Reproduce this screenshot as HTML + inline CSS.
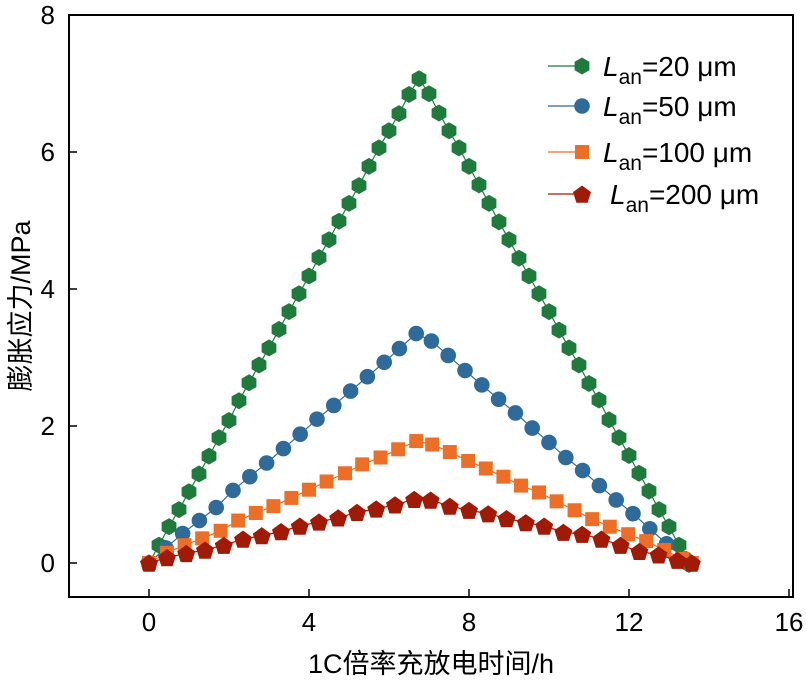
<!DOCTYPE html>
<html><head><meta charset="utf-8"><style>
body{margin:0;background:#fff}
svg text{font-family:"Liberation Sans","Noto Sans CJK SC",sans-serif;fill:#000}
</style></head><body>
<svg id="chart" width="806" height="689"></svg>
<script>
const xTicks=[0,4,8,12,16];
const yTicks=[0,2,4,6,8];
const gX=[0,0.25,0.5,0.75,1,1.25,1.5,1.75,2,2.25,2.5,2.75,3,3.25,3.5,3.75,4,4.25,4.5,4.75,5,5.25,5.5,5.75,6,6.25,6.5,6.75,7,7.25,7.5,7.75,8,8.25,8.5,8.75,9,9.25,9.5,9.75,10,10.25,10.5,10.75,11,11.25,11.5,11.75,12,12.25,12.5,12.75,13,13.25,13.5];
const gY=[0,0.26,0.53,0.78,1.04,1.3,1.56,1.83,2.08,2.37,2.63,2.89,3.14,3.41,3.67,3.93,4.19,4.46,4.72,4.99,5.25,5.51,5.79,6.06,6.31,6.56,6.84,7.07,6.85,6.57,6.31,6.06,5.79,5.52,5.25,4.98,4.72,4.45,4.19,3.93,3.67,3.4,3.14,2.89,2.62,2.38,2.09,1.83,1.57,1.31,1.05,0.78,0.53,0.26,-0.02];
const bX=[0,0.42,0.84,1.26,1.68,2.1,2.52,2.94,3.36,3.78,4.2,4.62,5.04,5.46,5.88,6.26,6.68,7.06,7.48,7.9,8.32,8.74,9.16,9.58,10,10.42,10.84,11.26,11.68,12.1,12.52,12.94,13.4];
const bY=[0,0.22,0.43,0.62,0.81,1.06,1.26,1.46,1.67,1.88,2.1,2.3,2.51,2.72,2.93,3.13,3.35,3.24,3.03,2.81,2.6,2.39,2.19,1.97,1.76,1.54,1.35,1.13,0.92,0.72,0.5,0.28,0.06];
const oX=[0,0.45,0.89,1.33,1.79,2.23,2.67,3.11,3.56,4,4.44,4.9,5.33,5.79,6.23,6.68,7.08,7.52,7.98,8.42,8.86,9.3,9.75,10.19,10.64,11.08,11.52,11.98,12.43,12.88,13.33,13.57];
const oY=[0,0.15,0.26,0.36,0.47,0.62,0.73,0.83,0.95,1.07,1.19,1.31,1.44,1.54,1.66,1.78,1.73,1.62,1.49,1.38,1.26,1.13,1.03,0.9,0.77,0.64,0.53,0.42,0.32,0.19,0.06,0];
const rX=[0,0.45,0.93,1.4,1.87,2.35,2.82,3.3,3.77,4.25,4.73,5.2,5.68,6.15,6.63,7.04,7.52,8,8.48,8.94,9.42,9.88,10.36,10.83,11.31,11.79,12.26,12.74,13.21,13.57];
const rY=[0,0.08,0.14,0.19,0.26,0.35,0.4,0.46,0.54,0.6,0.66,0.74,0.79,0.85,0.93,0.92,0.83,0.77,0.72,0.65,0.59,0.54,0.45,0.42,0.35,0.26,0.17,0.12,0.04,0];
const L=69,R=793,T=15,B=597;
const sx=v=>149+v*40, sy=v=>563-v*68.5;
const svg=document.getElementById('chart');
const NS='http://www.w3.org/2000/svg';
function mk(tag,attrs,parent){const e=document.createElementNS(NS,tag);for(const k in attrs)e.setAttribute(k,attrs[k]);(parent||svg).appendChild(e);return e;}
function poly(n,r,cx,cy,rot){let p=[];for(let i=0;i<n;i++){const a=rot+i*2*Math.PI/n;p.push((cx+r*Math.cos(a)).toFixed(1)+','+(cy+r*Math.sin(a)).toFixed(1));}return p.join(' ');}
function marker(type,cx,cy,color,g){
 if(type==='hex')return mk('polygon',{points:poly(6,8.5,cx,cy,-Math.PI/2),fill:color},g);
 if(type==='circ')return mk('circle',{cx:cx,cy:cy,r:7.8,fill:color},g);
 if(type==='sq')return mk('rect',{x:cx-7,y:cy-7,width:14,height:14,fill:color},g);
 return mk('polygon',{points:poly(5,9.5,cx,cy+1,-Math.PI/2),fill:color},g);
}
const series=[
 {name:'series-lan-20',xs:gX,ys:gY,c:'#1e7b3c',m:'hex'},
 {name:'series-lan-50',xs:bX,ys:bY,c:'#2e6a9a',m:'circ'},
 {name:'series-lan-100',xs:oX,ys:oY,c:'#ee6e26',m:'sq'},
 {name:'series-lan-200',xs:rX,ys:rY,c:'#a01a05',m:'pent'}];
series.forEach(s=>{
 const g=mk('g',{});
 
 
 const pl=mk('polyline',{points:s.xs.map((x,i)=>sx(x)+','+sy(s.ys[i])).join(' '),fill:'none',stroke:s.c,'stroke-width':1.2},g);
 
 
 s.xs.forEach((x,i)=>{const m=marker(s.m,sx(x),sy(s.ys[i]),s.c,g);
  
  });
});
const frame=mk('rect',{x:L,y:T,width:R-L,height:B-T,fill:'none',stroke:'#000','stroke-width':2});


xTicks.forEach(v=>{
 const t=mk('line',{x1:sx(v),x2:sx(v),y1:B,y2:B-8,stroke:'#000','stroke-width':1.5});
 
 
 const l=mk('text',{x:sx(v),y:B+34,'text-anchor':'middle','font-size':26});l.textContent=v;
 
 
});
yTicks.forEach(v=>{
 const t=mk('line',{x1:L,x2:L+8,y1:sy(v),y2:sy(v),stroke:'#000','stroke-width':1.5});
 
 
 const l=mk('text',{x:L-14,y:sy(v)+9,'text-anchor':'end','font-size':26});l.textContent=v;
 
 
});
const xl=mk('text',{x:431,y:673,'text-anchor':'middle','font-size':27});xl.textContent='1C倍率充放电时间/h';


const yl=mk('text',{x:0,y:0,'text-anchor':'middle','font-size':27,transform:'translate(30,306) rotate(-90)'});yl.textContent='膨胀应力/MPa';


const labels=['20','50','100','200'];const rows=[66,106,152,194];
series.forEach((s,i)=>{
 const g=mk('g',{});
 
 
 mk('line',{x1:548,x2:582,y1:rows[i],y2:rows[i],stroke:s.c,'stroke-width':1.2},g);
 marker(s.m,582,rows[i],s.c,g);
 const t=mk('text',{x:i===3?610:603,y:rows[i]+10,'font-size':28},g);
 t.innerHTML='<tspan font-style="italic">L</tspan><tspan font-size="21" dy="8">an</tspan><tspan dy="-8">='+labels[i]+' μm</tspan>';
});
</script>
</body></html>
